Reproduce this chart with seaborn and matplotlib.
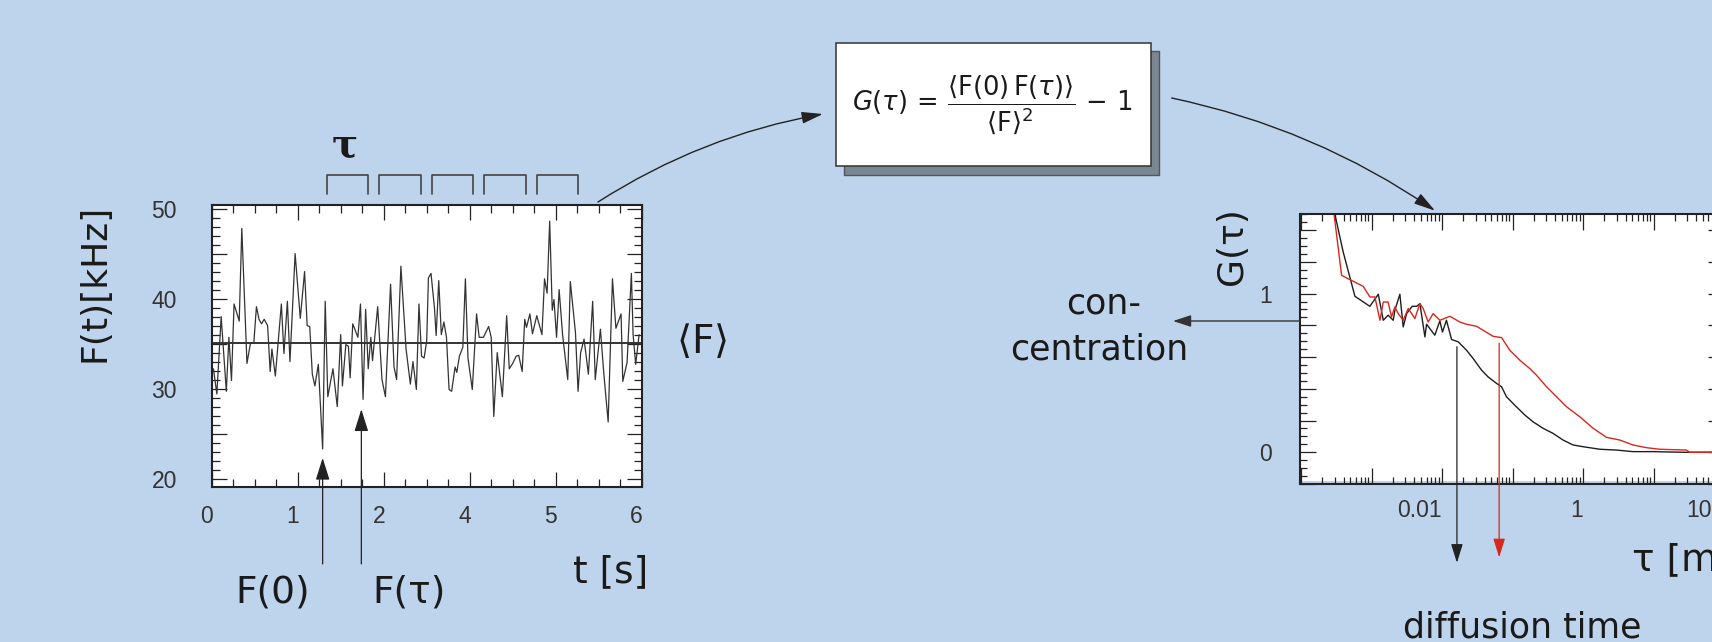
import numpy as np
import pandas as pd
import matplotlib
matplotlib.use("Agg")
import matplotlib.pyplot as plt
import matplotlib.transforms as mtransforms
from matplotlib.patches import Rectangle
from matplotlib.ticker import (MultipleLocator, FixedLocator, LogLocator,
                               NullFormatter, FuncFormatter)
import seaborn as sns

# ---------------- data ----------------
# fluorescence trace F(t)
t_s = [0.02, 0.06, 0.11, 0.17, 0.20, 0.23, 0.26, 0.32, 0.35, 0.41,
       0.45, 0.49, 0.52, 0.55, 0.58, 0.61, 0.65, 0.68, 0.70, 0.74,
       0.81, 0.84, 0.88, 0.91, 0.97, 1.03, 1.08, 1.11, 1.14, 1.17,
       1.20, 1.24, 1.29, 1.32, 1.35, 1.41, 1.46, 1.50, 1.52, 1.56,
       1.59, 1.61, 1.64, 1.70, 1.73, 1.76, 1.79, 1.82, 1.85, 1.87,
       1.93, 1.98, 2.02, 2.08, 2.12, 2.15, 2.20, 2.26, 2.31, 2.34,
       2.38, 2.41, 2.44, 2.47, 2.50, 2.52, 2.55, 2.59, 2.61, 2.64,
       2.67, 2.70, 2.73, 2.76, 2.79, 2.83, 2.85, 2.88, 2.92, 2.95,
       2.98, 3.03, 3.08, 3.11, 3.16, 3.22, 3.25, 3.28, 3.32, 3.38,
       3.43, 3.46, 3.50, 3.54, 3.57, 3.61, 3.64, 3.66, 3.70, 3.73,
       3.78, 3.84, 3.87, 3.90, 3.93, 3.96, 3.98, 4.01, 4.04, 4.08,
       4.14, 4.17, 4.23, 4.26, 4.29, 4.33, 4.38, 4.43, 4.46, 4.52,
       4.56, 4.61, 4.66, 4.70, 4.76, 4.78, 4.83, 4.88, 4.90, 4.93,
       4.97]
F_kHz = [32.2, 29.4, 38.0, 29.7, 35.7, 30.9, 39.4, 37.5, 47.8, 32.8,
         35.0, 35.1, 39.1, 37.7, 37.2, 37.7, 37.0, 31.9, 34.4, 31.4,
         39.4, 33.9, 39.7, 33.0, 45.0, 37.8, 43.0, 37.0, 36.9, 31.6,
         30.3, 32.7, 23.3, 39.7, 29.1, 32.2, 28.0, 36.0, 30.3, 34.9,
         34.7, 31.2, 37.2, 35.7, 39.4, 28.8, 38.8, 32.2, 35.7, 33.1,
         39.1, 31.0, 29.1, 41.6, 32.4, 31.0, 43.6, 34.4, 30.5, 33.0,
         29.9, 39.4, 33.6, 33.4, 35.3, 42.3, 42.8, 39.0, 35.9, 42.0,
         36.0, 37.4, 35.7, 29.9, 29.7, 32.4, 31.8, 33.6, 34.6, 42.2,
         33.4, 29.9, 38.3, 35.7, 35.7, 36.9, 35.7, 26.9, 34.0, 29.1,
         38.1, 32.2, 32.8, 33.6, 33.7, 31.9, 37.7, 36.8, 38.3, 36.1,
         38.1, 36.0, 42.2, 40.6, 48.6, 38.7, 39.9, 35.7, 41.0, 36.0,
         31.0, 41.9, 36.2, 29.7, 34.0, 35.5, 31.6, 39.7, 31.0, 36.6,
         31.6, 26.3, 42.2, 36.7, 38.3, 30.8, 32.9, 42.8, 36.0, 32.7,
         36.0]
F_mean = 35.1
trace_xticks = [0, 1, 2, 3, 4, 5]
trace_xticklabels = ["0", "1", "2", "4", "5", "6"]
tau_window_starts = [1.34, 1.95, 2.56, 3.17, 3.78]
tau_window_width = 0.48
F0_point = (1.29, 22.3)
Ftau_point = (1.74, 27.7)

# correlation curves G(tau)
tau_black = [2.82e-4, 3.94e-4, 5.78e-4, 9.42e-4, 1.24e-3, 1.46e-3, 1.71e-3, 2.02e-3,
             2.13e-3, 2.51e-3, 2.80e-3, 3.13e-3, 3.75e-3, 4.34e-3, 4.83e-3, 5.69e-3,
             6.01e-3, 7.87e-3, 9.27e-3, 1.01e-2, 1.15e-2, 1.36e-2, 1.69e-2, 2.22e-2,
             2.75e-2, 3.62e-2, 4.49e-2, 5.92e-2, 6.97e-2, 8.18e-2, 0.107, 0.149,
             0.195, 0.271, 0.375, 0.520, 0.721, 1.00, 1.73, 2.98, 5.12, 9.84, 26.2, 100]
G_black = [1.555, 1.262, 0.983, 0.920, 0.996, 0.832, 0.864, 0.832, 0.895, 0.996,
           0.790, 0.874, 0.920, 0.920, 0.937, 0.727, 0.807, 0.738, 0.828, 0.758,
           0.832, 0.711, 0.696, 0.643, 0.591, 0.518, 0.475, 0.434, 0.413, 0.350,
           0.297, 0.235, 0.192, 0.151, 0.119, 0.077, 0.046, 0.035, 0.019, 0.014,
           0.004, 0.004, 0.0, 0.0]
tau_red = [2.82e-4, 3.74e-4, 7.57e-4, 9.42e-4, 1.11e-3, 1.31e-3, 1.46e-3, 1.71e-3,
           1.91e-3, 2.13e-3, 2.38e-3, 2.80e-3, 3.30e-3, 4.10e-3, 4.83e-3, 5.38e-3,
           6.33e-3, 7.45e-3, 9.27e-3, 1.29e-2, 1.78e-2, 2.22e-2, 3.08e-2, 3.82e-2,
           5.28e-2, 6.97e-2, 9.12e-2, 0.126, 0.175, 0.218, 0.303, 0.420, 0.582,
           0.897, 1.39, 2.15, 3.32, 5.12, 7.93, 12.2, 29.3, 32.6, 100]
G_red = [1.555, 1.115, 1.046, 0.979, 0.979, 0.832, 0.947, 0.947, 0.853, 0.916,
         0.874, 0.832, 0.906, 0.843, 0.937, 0.906, 0.821, 0.874, 0.832, 0.857,
         0.821, 0.807, 0.794, 0.769, 0.731, 0.723, 0.643, 0.581, 0.528, 0.486,
         0.413, 0.350, 0.287, 0.224, 0.151, 0.094, 0.077, 0.046, 0.029, 0.019,
         0.014, 0.0, 0.0]
diff_time_black = 0.0162
diff_time_red = 0.0644
tau_major_ticks = [1e-4, 1e-3, 1e-2, 1e-1, 1, 10, 100]
tau_tick_labels = {1e-2: "0.01", 1: "1", 100: "100"}

# ---------------- style ----------------
BG = "#bed4ec"
DARK = "#222222"
RED = "#d8281c"
sns.set_style("ticks")
plt.rcParams["font.family"] = ["DejaVu Sans"]
plt.rcParams["mathtext.fontset"] = "dejavusans"

W, H = 1712, 642
fig = plt.figure(figsize=(W / 100, H / 100), dpi=100)
fig.patch.set_facecolor(BG)


def frac(l, t, r, b):
    return [l / W, 1 - b / H, (r - l) / W, (b - t) / H]


ax1 = fig.add_axes(frac(211.7, 205, 641.7, 486.7))
ax2 = fig.add_axes(frac(1300, 214.3, 1724, 484))
for ax in (ax1, ax2):
    ax.set_facecolor("white")
    for sp in ax.spines.values():
        sp.set_visible(True)
        sp.set_linewidth(1.5)
        sp.set_color(DARK)

TICK_FS = 16.5

# ---------------- left: intensity trace ----------------
df_trace = pd.DataFrame({"t": t_s, "F": F_kHz})
sns.lineplot(data=df_trace, x="t", y="F", ax=ax1, color="#333333", lw=0.9,
             sort=False, estimator=None)
ax1.axhline(F_mean, color="#333333", lw=1.4)
ax1.set_xlim(0, 5)
ax1.set_ylim(19.1, 50.4)
ax1.set_xticks(trace_xticks, trace_xticklabels)
ax1.xaxis.set_minor_locator(MultipleLocator(0.25))
ax1.yaxis.set_major_locator(MultipleLocator(5))
ax1.yaxis.set_major_formatter(FuncFormatter(lambda v, p: f"{v:.0f}" if abs(v % 10) < 1e-6 else ""))
ax1.yaxis.set_minor_locator(MultipleLocator(1))
ax1.tick_params(which="both", direction="in", top=True, right=True, color=DARK,
                width=0.9, labelsize=TICK_FS, labelcolor="#333333")
ax1.tick_params(which="major", length=11)
ax1.tick_params(which="minor", length=5.8)
ax1.tick_params(axis="x", pad=13)
ax1.tick_params(axis="y", pad=25)
ax1.set_xlabel("")
ax1.set_ylabel("")
plt.setp(ax1.get_xticklabels() + ax1.get_yticklabels(), family="Liberation Sans")
shift = mtransforms.ScaledTranslation(-0.05, 0, fig.dpi_scale_trans)
for lbl in ax1.get_xticklabels():
    lbl.set_transform(lbl.get_transform() + shift)

# tau windows above the trace
xt1 = ax1.get_xaxis_transform()
for s in tau_window_starts:
    ax1.plot([s, s, s + tau_window_width, s + tau_window_width],
             [1.039, 1.1065, 1.1065, 1.039], transform=xt1, color="#444444",
             lw=1.2, clip_on=False)

# F(0), F(tau) arrows
arrow_kw = dict(arrowstyle="-|>,head_length=1.37,head_width=0.43", mutation_scale=10,
                color="#222222", lw=0.9, shrinkA=0, shrinkB=0)
for (tx, fy) in (F0_point, Ftau_point):
    ax1.annotate("", xy=(tx, fy), xycoords="data", xytext=(tx, -0.274), textcoords=xt1,
                 arrowprops=arrow_kw, annotation_clip=False)

# ---------------- right: correlation curves ----------------
ax2.set_xscale("log")
df_g = pd.DataFrame({
    "tau": tau_black + tau_red,
    "G": G_black + G_red,
    "sample": ["black"] * len(tau_black) + ["red"] * len(tau_red),
})
sns.lineplot(data=df_g, x="tau", y="G", hue="sample",
             palette={"black": "#1e1e1e", "red": RED}, ax=ax2, lw=1.0,
             sort=False, estimator=None, legend=False)
ax2.set_xlim(9.6e-5, 100)
ax2.set_ylim(-0.2, 1.5)
ax2.xaxis.set_major_locator(FixedLocator(tau_major_ticks))
ax2.xaxis.set_major_formatter(FuncFormatter(
    lambda v, p: next((s for k, s in tau_tick_labels.items() if abs(np.log10(v) - np.log10(k)) < 1e-6), "")))
ax2.xaxis.set_minor_locator(LogLocator(base=10, subs=np.arange(2, 10), numticks=60))
ax2.xaxis.set_minor_formatter(NullFormatter())
ax2.yaxis.set_major_locator(MultipleLocator(0.2))
ax2.yaxis.set_major_formatter(FuncFormatter(
    lambda v, p: "0" if abs(v) < 1e-6 else ("1" if abs(v - 1) < 1e-6 else "")))
ax2.yaxis.set_minor_locator(MultipleLocator(0.05))
ax2.tick_params(which="both", direction="in", top=True, right=True, color=DARK,
                width=0.9, labelsize=TICK_FS, labelcolor="#333333")
ax2.tick_params(which="major", length=11.5)
ax2.tick_params(which="minor", length=5)
ax2.tick_params(axis="x", pad=11)
ax2.tick_params(axis="y", pad=20)
ax2.set_xlabel("")
ax2.set_ylabel("")
plt.setp(ax2.get_xticklabels() + ax2.get_yticklabels(), family="Liberation Sans")
plt.setp(ax2.get_xticklabels(), ha="right")
ax2.add_patch(Rectangle((0, 0), 1, 0.012, transform=ax2.transAxes, facecolor=BG,
                        edgecolor="none", zorder=0.5))

xt2 = ax2.get_xaxis_transform()
for xd, y0, y1, col in ((diff_time_black, 0.509, -0.292, "#222222"),
                        (diff_time_red, 0.522, -0.272, RED)):
    ax2.annotate("", xy=(xd, y1), xycoords=xt2, xytext=(xd, y0), textcoords=xt2,
                 arrowprops=dict(arrowstyle="-|>,head_length=1.15,head_width=0.36",
                                 mutation_scale=10, color=col, lw=0.9,
                                 shrinkA=0, shrinkB=0),
                 annotation_clip=False)

# ---------------- overlay: box, curved arrows, labels ----------------
ov = fig.add_axes([0, 0, 1, 1], zorder=10)
ov.set_xlim(0, W)
ov.set_ylim(H, 0)
ov.axis("off")

ov.add_patch(Rectangle((844.3, 50.7), 315, 124.3, facecolor="#7b8693",
                       edgecolor="#555555", lw=1.0))
ov.add_patch(Rectangle((836, 42.7), 315, 123.3, facecolor="white",
                       edgecolor="#333333", lw=1.1))
ov.text(992, 104.5,
        r"$G(\tau)\,=\,\dfrac{\langle\mathrm{F}(0)\,\mathrm{F}(\tau)\rangle}"
        r"{\langle\mathrm{F}\rangle^{2}}\,-\,1$",
        fontsize=18.5, ha="center", va="center", color="#1a1a1a")

curve_kw = dict(arrowstyle="-|>,head_length=1.3,head_width=0.36", mutation_scale=10,
                color="#222222", lw=1.0, shrinkA=0, shrinkB=0)
ov.annotate("", xy=(823, 114), xytext=(598, 202),
            arrowprops=dict(connectionstyle="arc3,rad=-0.1", **curve_kw))
ov.annotate("", xy=(1435, 210.7), xytext=(1171.7, 98),
            arrowprops=dict(connectionstyle="arc3,rad=-0.1", **curve_kw))
ov.annotate("", xy=(1173, 321), xytext=(1300, 321),
            arrowprops=dict(arrowstyle="-|>,head_length=1.1,head_width=0.36",
                            mutation_scale=10, color="#333333", lw=1.0,
                            shrinkA=0, shrinkB=0))

txt = dict(color="#1a1a1a", ha="center", va="center")
ov.text(345, 146, "τ", fontsize=28, fontweight="bold", family="DejaVu Serif", **txt)
ov.text(95, 283, "F(t)[kHz]", rotation=90, fontsize=26, **txt)
ov.text(273, 592, "F(0)", fontsize=27, **txt)
ov.text(409, 593, "F(τ)", fontsize=27, **txt)
ov.text(611, 572, "t [s]", fontsize=27, **txt)
ov.text(702, 342, r"$\langle\mathrm{F}\rangle$", fontsize=28, **txt)
ov.text(1104, 304, "con-", fontsize=25, **txt)
ov.text(1099, 349, "centration", fontsize=25, **txt)
ov.text(1232, 246, "G(τ)", rotation=90, fontsize=26, **txt)
ov.text(1632, 560, "τ [ms]", fontsize=27, color="#1a1a1a", ha="left", va="center")
ov.text(1522, 627, "diffusion time", fontsize=25, **txt)

fig.savefig("out.png", dpi=100, facecolor=fig.get_facecolor())
